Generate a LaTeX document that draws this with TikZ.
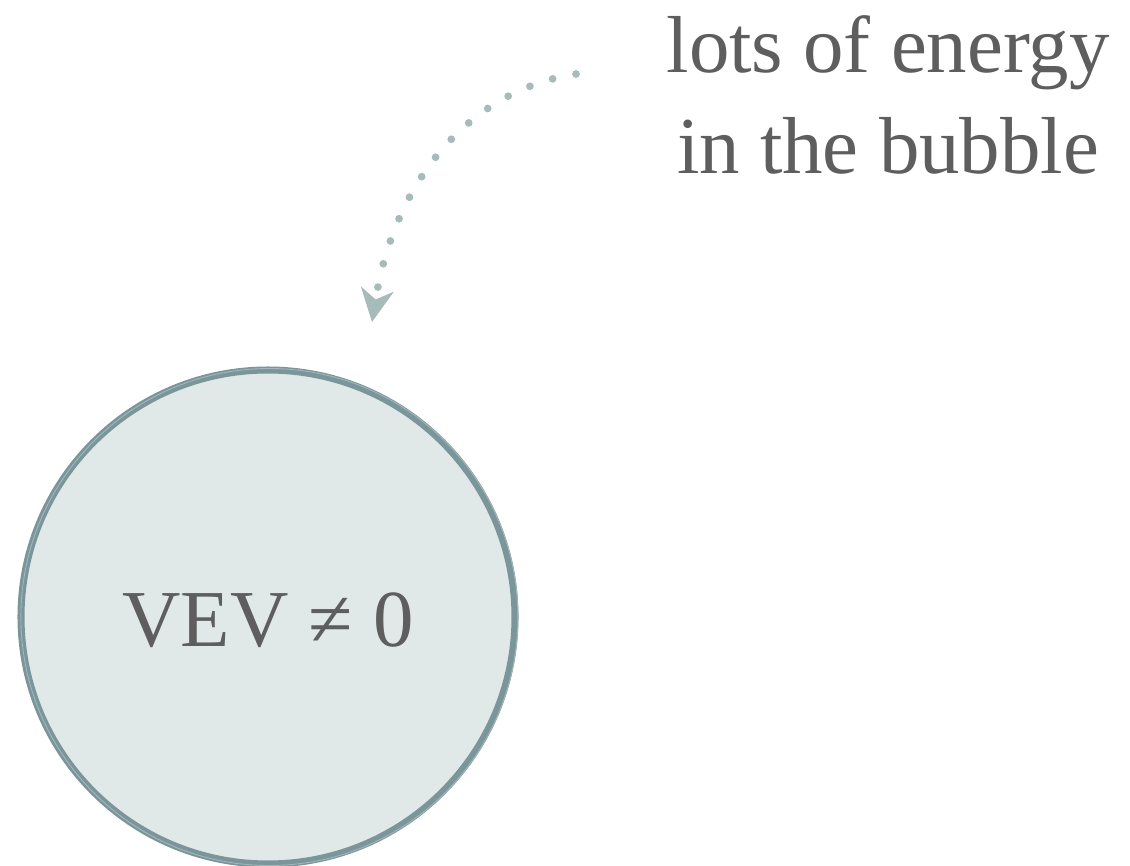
\documentclass[tikz,border=0pt]{standalone}
\usepackage{fontspec}
\setmainfont{Liberation Serif}
\usetikzlibrary{arrows.meta, positioning}
\definecolor{inkgray}{HTML}{5E5E5E}
\definecolor{bubfill}{HTML}{E0E8E8}
\definecolor{bubedge}{HTML}{7B969B}
\definecolor{dotcol}{HTML}{A6BBBA}
\tikzset{
  txt/.style={text=inkgray, font=\fontsize{46}{57}\selectfont, inner sep=0pt},
  dotarr/.style={draw=dotcol, line width=4.4pt, line cap=round,
    dash pattern=on 0pt off 13.6pt,
    -{Stealth[length=19pt, width=19pt, inset=6pt, line width=0pt, fill=dotcol]}}
}
\begin{document}
\begin{tikzpicture}[x=0.02cm, y=-0.02cm,
    bub/.style={circle, draw=bubedge, fill=bubfill, line width=4pt,
                minimum size=494*0.02cm, inner sep=0pt}
  ]
  \useasboundingbox (0,0) rectangle (1130,866);
  \node[bub] (bubble) at (268,617) {};
  % brushed edge
  \draw[bubedge!70, line width=0.5pt] ([xshift=0.8pt]bubble.center) circle[radius=248.5*0.02cm];
  \node[txt, anchor=base] (vev) at (268,646) {VEV ≠ 0};
  \node[txt, align=center, anchor=base] (note) at (888,173) {lots of energy\\in the bubble};

  \coordinate (from) at (576,74);
  \coordinate (tip)  at (372,322);
  \draw[dotarr] (from) .. controls (470,90) and (395,180) .. (tip);
\end{tikzpicture}
\end{document}
